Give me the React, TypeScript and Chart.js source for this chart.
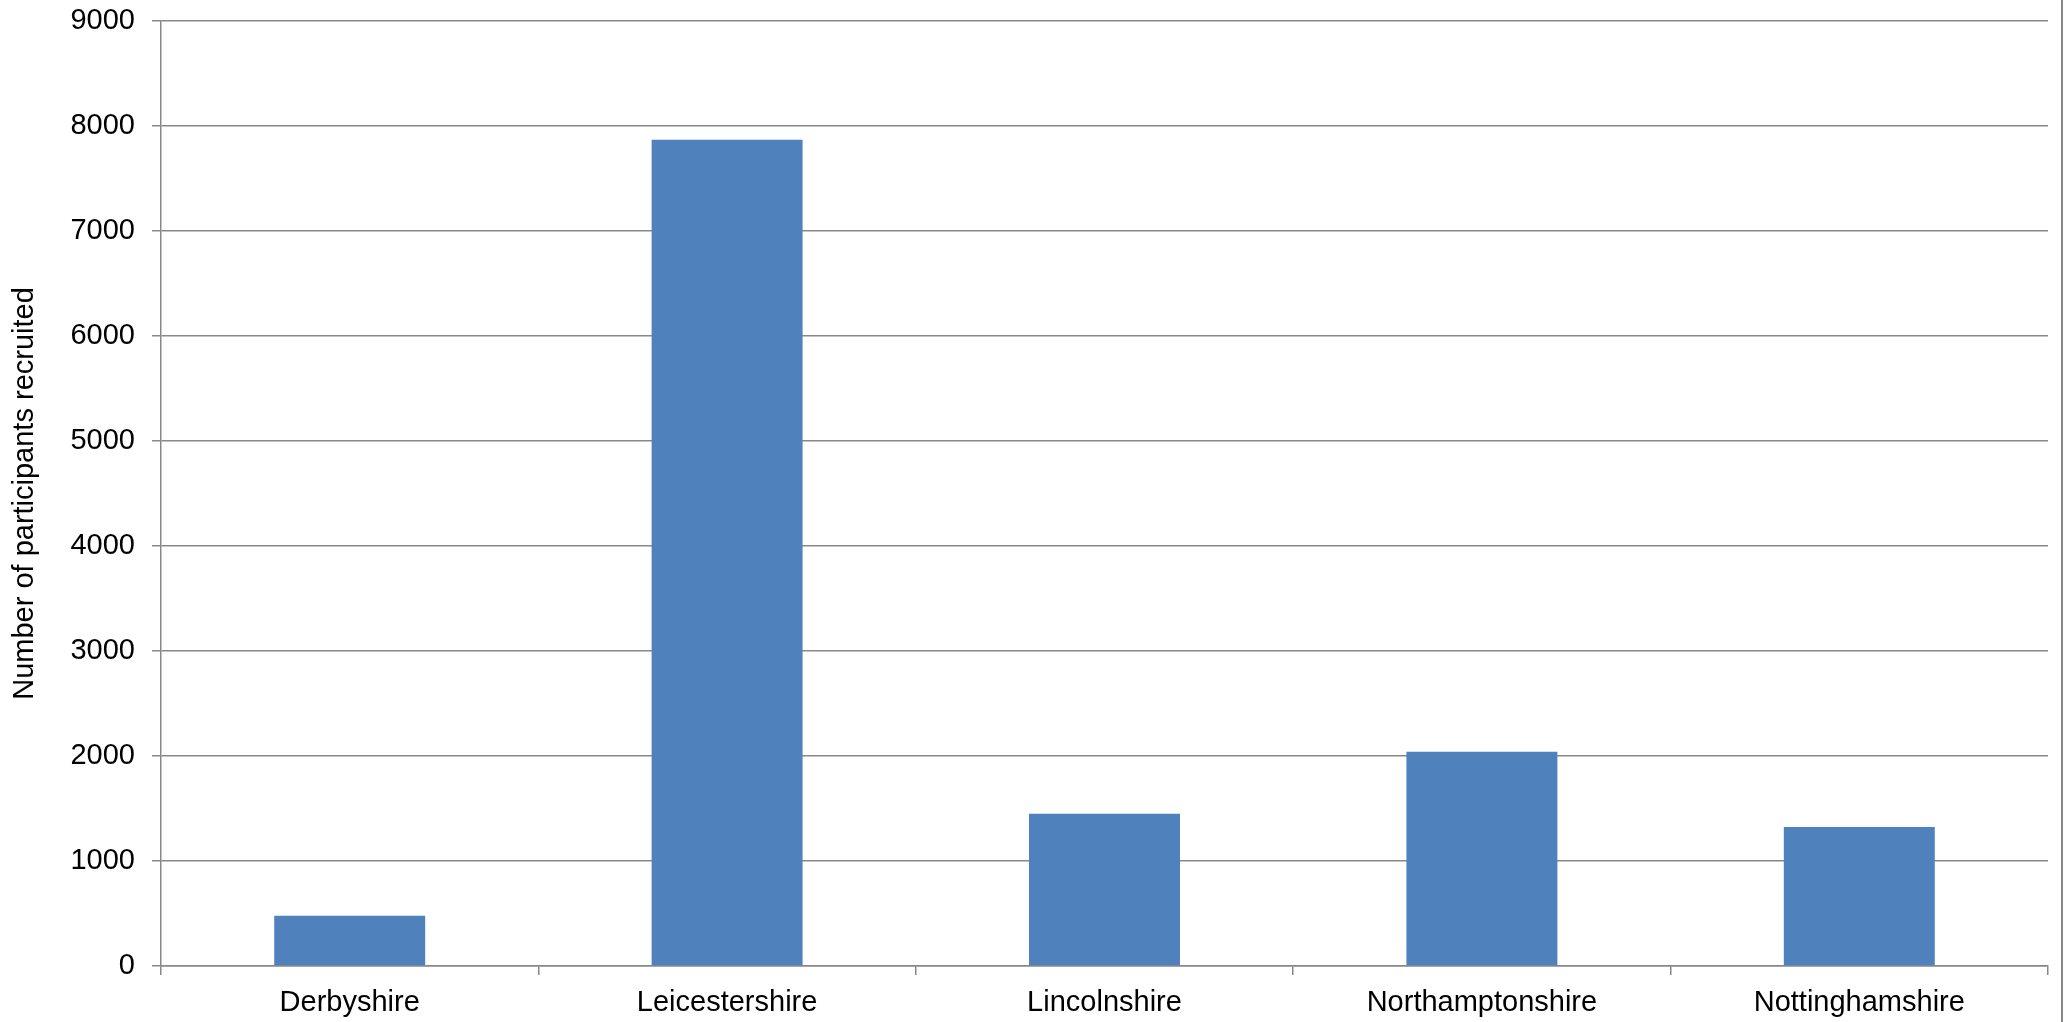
import React, { useEffect, useRef } from "react";
import { Chart, registerables } from "chart.js";

Chart.register(...registerables);

const categories: string[] = [
  "Derbyshire",
  "Leicestershire",
  "Lincolnshire",
  "Northamptonshire",
  "Nottinghamshire",
];
const participants: number[] = [478, 7870, 1450, 2040, 1325];
const yMin = 0;
const yMax = 9000;
const yStep = 1000;
const yTitle = "Number of participants recruited";

const FONT = "'Liberation Sans', Arial, Helvetica, sans-serif";
const GRID = "#888888";
const BAR = "#4F81BD";

const framePlugin = {
  id: "frameLine",
  afterDraw(chart: any) {
    const ctx = chart.ctx;
    ctx.save();
    ctx.fillStyle = GRID;
    ctx.fillRect(chart.width - 8, 0, 2, chart.height);
    ctx.restore();
  },
};

export default function App() {
  const ref = useRef<HTMLCanvasElement | null>(null);

  useEffect(() => {
    document.body.style.margin = "0";
    document.body.style.overflow = "hidden";
    const canvas = ref.current;
    if (!canvas) return;
    const chart = new Chart(canvas, {
      type: "bar",
      data: {
        labels: categories,
        datasets: [
          {
            data: participants,
            backgroundColor: BAR,
            borderWidth: 0,
            barPercentage: 0.4,
            categoryPercentage: 1,
          },
        ],
      },
      plugins: [framePlugin],
      options: {
        animation: false,
        responsive: false,
        devicePixelRatio: 1,
        layout: { padding: { top: 21, right: 21, left: 0, bottom: 0 } },
        plugins: {
          legend: { display: false },
          tooltip: { enabled: false },
          title: { display: false },
        },
        scales: {
          x: {
            grid: {
              display: true,
              drawOnChartArea: false,
              drawTicks: true,
              tickLength: 9,
              color: GRID,
              lineWidth: 1.5,
              offset: true,
            },
            border: { display: true, color: GRID, width: 1.5 },
            ticks: {
              color: "#000",
              font: { family: FONT, size: 29 },
              padding: 11,
              maxRotation: 0,
              autoSkip: false,
            },
            afterFit: (scale: any) => {
              scale.height = 56;
              scale.paddingLeft = 0;
              scale.paddingRight = 0;
            },
          },
          y: {
            min: yMin,
            max: yMax,
            grid: {
              display: true,
              drawOnChartArea: true,
              drawTicks: true,
              tickLength: 9,
              color: GRID,
              lineWidth: 1.5,
            },
            border: { display: true, color: GRID, width: 1.5 },
            ticks: {
              stepSize: yStep,
              color: "#000",
              font: { family: FONT, size: 29 },
              padding: 17,
              callback: (v: any) => String(v),
            },
            title: {
              display: true,
              text: yTitle,
              color: "#000",
              font: { family: FONT, size: 29 },
              padding: { top: 8, bottom: 0 },
            },
            afterFit: (scale: any) => {
              scale.width = 161;
              scale.paddingTop = 0;
              scale.paddingBottom = 0;
            },
          },
        },
      },
    });
    return () => chart.destroy();
  }, []);

  return (
    <div style={{ width: 2069, height: 1022, background: "#fff" }}>
      <canvas ref={ref} width={2069} height={1022} style={{ display: "block" }} />
    </div>
  );
}
